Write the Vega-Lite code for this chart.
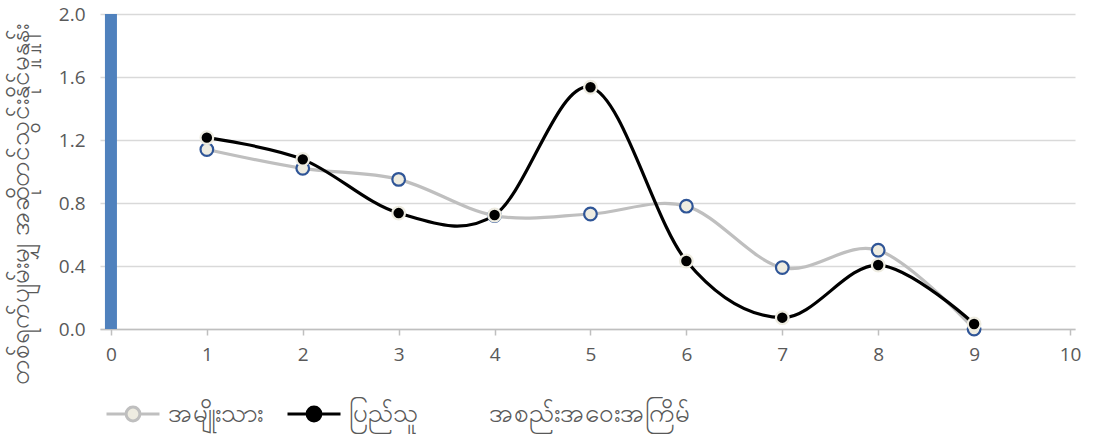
{
  "$schema": "https://vega.github.io/schema/vega-lite/v6.json",
  "width": 975,
  "height": 315,
  "autosize": "none",
  "padding": {"left": 100, "top": 14, "right": 24, "bottom": 105},
  "background": "white",
  "config": {
    "view": {"stroke": null},
    "font": "Open Sans"
  },
  "datasets": {
    "bar": [{"x": 0, "value": 2.0}],
    "lines": [
      {"x": 1, "series": "အမျိုးသား", "value": 1.14},
      {"x": 2, "series": "အမျိုးသား", "value": 1.02},
      {"x": 3, "series": "အမျိုးသား", "value": 0.95},
      {"x": 4, "series": "အမျိုးသား", "value": 0.72},
      {"x": 5, "series": "အမျိုးသား", "value": 0.73},
      {"x": 6, "series": "အမျိုးသား", "value": 0.78},
      {"x": 7, "series": "အမျိုးသား", "value": 0.39},
      {"x": 8, "series": "အမျိုးသား", "value": 0.50},
      {"x": 9, "series": "အမျိုးသား", "value": 0.0},
      {"x": 1, "series": "ပြည်သူ", "value": 1.215},
      {"x": 2, "series": "ပြည်သူ", "value": 1.077},
      {"x": 3, "series": "ပြည်သူ", "value": 0.736},
      {"x": 4, "series": "ပြည်သူ", "value": 0.724},
      {"x": 5, "series": "ပြည်သူ", "value": 1.535},
      {"x": 6, "series": "ပြည်သူ", "value": 0.432},
      {"x": 7, "series": "ပြည်သူ", "value": 0.072},
      {"x": 8, "series": "ပြည်သူ", "value": 0.406},
      {"x": 9, "series": "ပြည်သူ", "value": 0.032}
    ]
  },
  "encoding": {
    "x": {
      "field": "x",
      "type": "quantitative",
      "scale": {"domain": [-0.062, 10], "nice": false, "zero": false},
      "axis": {
        "values": [0, 1, 2, 3, 4, 5, 6, 7, 8, 9, 10],
        "format": "d",
        "title": null,
        "grid": false,
        "domainColor": "#BFBFBF",
        "domainWidth": 1.5,
        "tickColor": "#BFBFBF",
        "tickWidth": 1.5,
        "tickSize": 6,
        "labelFontSize": 19,
        "labelColor": "#595959",
        "labelPadding": 10,
        "labelFlush": false
      }
    },
    "y": {
      "field": "value",
      "type": "quantitative",
      "scale": {"domain": [0, 2], "nice": false},
      "axis": {
        "values": [0, 0.4, 0.8, 1.2, 1.6, 2.0],
        "format": ".1f",
        "title": "တစ်ရက်ပျမ်းမျှ အဆိုတင်သွင်းနိုင်မှုနှုန်း",
        "titleFontSize": 26,
        "titleFontWeight": "normal",
        "titleColor": "#595959",
        "titleX": -80,
        "titleY": 190,
        "titleAngle": -90,
        "titleAlign": "center",
        "titleBaseline": "middle",
        "titleLimit": 500,
        "grid": true,
        "gridColor": "#D9D9D9",
        "gridWidth": 1.5,
        "domain": false,
        "ticks": false,
        "labelFontSize": 19,
        "labelColor": "#595959",
        "labelPadding": 15
      }
    }
  },
  "layer": [
    {
      "data": {"name": "bar"},
      "mark": {"type": "bar", "color": "#4F81BD", "width": 12}
    },
    {
      "data": {"name": "lines"},
      "mark": {"type": "line", "interpolate": "cardinal", "strokeWidth": 3.2},
      "encoding": {
        "color": {
          "field": "series",
          "type": "nominal",
          "scale": {
            "domain": ["အမျိုးသား", "ပြည်သူ", "အစည်းအဝေးအကြိမ်"],
            "range": ["#BFBFBF", "#000000", "rgba(0,0,0,0)"]
          },
          "legend": {
            "orient": "none",
            "legendX": 5,
            "legendY": 372,
            "direction": "horizontal",
            "title": null,
            "symbolType": "M -1 0 L -0.26 0 M 0.26 0 L 1 0 M -0.26 0 A 0.26 0.26 0 1 0 0.26 0 A 0.26 0.26 0 1 0 -0.26 0 Z",
            "symbolSize": 2809,
            "symbolStrokeWidth": 3,
            "labelFontSize": 26,
            "labelColor": "#595959",
            "labelOffset": 7,
            "labelLimit": 400,
            "columnPadding": 18,
            "encode": {
              "symbols": {
                "update": {
                  "fill": [
                    {"test": "datum.value === 'အမျိုးသား'", "value": "#EEECE1"},
                    {"test": "datum.value === 'ပြည်သူ'", "value": "#000000"},
                    {"value": "rgba(0,0,0,0)"}
                  ],
                  "opacity": {"value": 1}
                }
              },
              "labels": {
                "update": {
                  "dx": [
                    {"test": "datum.value === 'အစည်းအဝေးအကြိမ်'", "value": -16},
                    {"value": 0}
                  ]
                }
              }
            }
          }
        }
      }
    },
    {
      "data": {"name": "lines"},
      "mark": {"type": "point", "filled": true, "size": 160, "strokeWidth": 2.2, "opacity": 1},
      "encoding": {
        "fill": {
          "field": "series",
          "type": "nominal",
          "scale": {"domain": ["အမျိုးသား", "ပြည်သူ"], "range": ["#EEECE1", "#000000"]},
          "legend": null
        },
        "stroke": {
          "field": "series",
          "type": "nominal",
          "scale": {"domain": ["အမျိုးသား", "ပြည်သူ"], "range": ["#2F5597", "#EEECE1"]},
          "legend": null
        }
      }
    }
  ]
}
